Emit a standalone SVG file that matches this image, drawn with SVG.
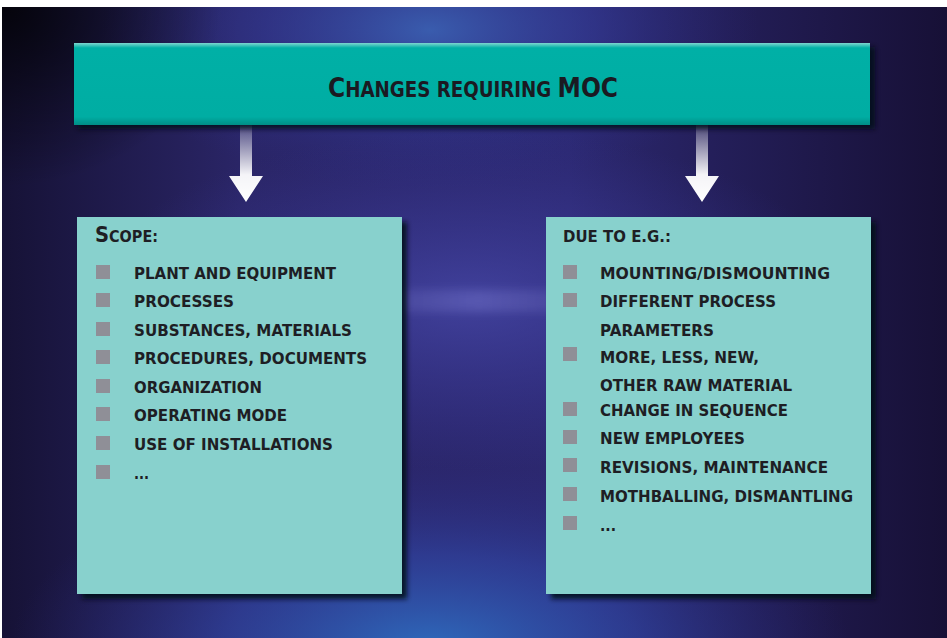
<svg xmlns="http://www.w3.org/2000/svg" width="947" height="638" viewBox="0 0 947 638">
<defs>
<style>
.item{font-family:"DejaVu Sans","Liberation Sans",sans-serif;font-weight:bold;font-size:15.5px;fill:#1e1e24;}
.head{font-family:"DejaVu Sans","Liberation Sans",sans-serif;font-weight:bold;fill:#1e1e24;}
.title{font-family:"DejaVu Sans Condensed","DejaVu Sans","Liberation Sans",sans-serif;font-weight:bold;fill:#1a1a22;}
.bul{fill:#8f8f97;}
.box{fill:#88d1cd;}
</style>
<clipPath id="bgclip"><rect x="2" y="7" width="945" height="631"/></clipPath>
<linearGradient id="bgbase" x1="0" y1="0" x2="1" y2="0">
<stop offset="0" stop-color="#161236"/>
<stop offset="0.25" stop-color="#2a2566"/>
<stop offset="0.6" stop-color="#2c2870"/>
<stop offset="1" stop-color="#171036"/>
</linearGradient>
<radialGradient id="glowTop" cx="0.5" cy="0.5" r="0.5">
<stop offset="0" stop-color="#3b62b5" stop-opacity="0.9"/>
<stop offset="0.5" stop-color="#3540a0" stop-opacity="0.5"/>
<stop offset="1" stop-color="#2a2a80" stop-opacity="0"/>
</radialGradient>
<radialGradient id="glowBot" cx="0.5" cy="0.5" r="0.5">
<stop offset="0" stop-color="#2e6cbd" stop-opacity="1"/>
<stop offset="0.5" stop-color="#3048a8" stop-opacity="0.6"/>
<stop offset="1" stop-color="#2a2a80" stop-opacity="0"/>
</radialGradient>
<radialGradient id="glowMid" cx="0.5" cy="0.5" r="0.5">
<stop offset="0" stop-color="#4a4cb0" stop-opacity="0.7"/>
<stop offset="1" stop-color="#3a3aa0" stop-opacity="0"/>
</radialGradient>
<radialGradient id="corner" cx="0" cy="0" r="1">
<stop offset="0" stop-color="#000000" stop-opacity="0.8"/>
<stop offset="1" stop-color="#000000" stop-opacity="0"/>
</radialGradient>
<linearGradient id="streak" x1="0" y1="0" x2="1" y2="0">
<stop offset="0" stop-color="#8888dd" stop-opacity="0"/>
<stop offset="0.5" stop-color="#8c8ce0" stop-opacity="0.3"/>
<stop offset="1" stop-color="#8888dd" stop-opacity="0"/>
</linearGradient>
<linearGradient id="arrowG" x1="0" y1="0" x2="0" y2="1">
<stop offset="0" stop-color="#ffffff" stop-opacity="0.15"/>
<stop offset="0.65" stop-color="#ffffff" stop-opacity="0.95"/>
<stop offset="1" stop-color="#ffffff" stop-opacity="1"/>
</linearGradient>
<linearGradient id="topG" x1="0" y1="0" x2="0" y2="1">
<stop offset="0" stop-color="#7fd6cf"/>
<stop offset="0.06" stop-color="#00b0a6"/>
<stop offset="0.9" stop-color="#00ada3"/>
<stop offset="1" stop-color="#008e86"/>
</linearGradient>
<filter id="shadow" x="-10%" y="-10%" width="120%" height="120%">
<feGaussianBlur stdDeviation="2.5"/>
</filter>
<filter id="soft" x="-50%" y="-50%" width="200%" height="200%">
<feGaussianBlur stdDeviation="4"/>
</filter>
</defs>

<rect width="947" height="638" fill="#ffffff"/>
<g id="background" clip-path="url(#bgclip)">
<rect x="2" y="7" width="945" height="631" fill="url(#bgbase)"/>
<ellipse cx="430" cy="30" rx="330" ry="160" fill="url(#glowTop)"/>
<ellipse cx="430" cy="650" rx="420" ry="190" fill="url(#glowBot)"/>
<ellipse cx="470" cy="300" rx="380" ry="170" fill="url(#glowMid)"/>
<rect x="300" y="290" width="360" height="22" fill="url(#streak)" filter="url(#soft)"/>
<rect x="2" y="7" width="220" height="180" fill="url(#corner)"/>
</g>

<g id="connectors">
<path d="M240,124 L252,124 L252,176 L263,176 L246,202 L229,176 L240,176 Z" fill="url(#arrowG)"/>
<path d="M696,124 L708,124 L708,176 L719,176 L702,202 L685,176 L696,176 Z" fill="url(#arrowG)"/>
</g>

<g id="node-top">
<rect x="78" y="47" width="797" height="82" fill="#050818" opacity="0.8" filter="url(#shadow)"/>
<rect x="74" y="43" width="796" height="82" fill="url(#topG)"/>
<text class="title" x="473" y="97" text-anchor="middle" textLength="290" lengthAdjust="spacingAndGlyphs"><tspan font-size="27">C</tspan><tspan font-size="21">HANGES REQUIRING </tspan><tspan font-size="27">MOC</tspan></text>
</g>

<g id="node-scope">
<rect x="82" y="222" width="325" height="377" fill="#050818" opacity="0.85" filter="url(#shadow)"/>
<rect class="box" x="77" y="217" width="325" height="377"/>
<text class="head" x="95" y="242" textLength="63" lengthAdjust="spacingAndGlyphs"><tspan font-size="21">S</tspan><tspan font-size="15.5">COPE:</tspan></text>
<rect class="bul" x="96" y="265" width="14" height="14"/>
<rect class="bul" x="96" y="293" width="14" height="14"/>
<rect class="bul" x="96" y="322" width="14" height="14"/>
<rect class="bul" x="96" y="350" width="14" height="14"/>
<rect class="bul" x="96" y="379" width="14" height="14"/>
<rect class="bul" x="96" y="407" width="14" height="14"/>
<rect class="bul" x="96" y="436" width="14" height="14"/>
<rect class="bul" x="96" y="465" width="14" height="14"/>
<text class="item" x="134" y="279" textLength="202" lengthAdjust="spacingAndGlyphs">PLANT AND EQUIPMENT</text>
<text class="item" x="134" y="307" textLength="100" lengthAdjust="spacingAndGlyphs">PROCESSES</text>
<text class="item" x="134" y="336" textLength="218" lengthAdjust="spacingAndGlyphs">SUBSTANCES, MATERIALS</text>
<text class="item" x="134" y="364" textLength="233" lengthAdjust="spacingAndGlyphs">PROCEDURES, DOCUMENTS</text>
<text class="item" x="134" y="393" textLength="128" lengthAdjust="spacingAndGlyphs">ORGANIZATION</text>
<text class="item" x="134" y="421" textLength="153" lengthAdjust="spacingAndGlyphs">OPERATING MODE</text>
<text class="item" x="134" y="450" textLength="199" lengthAdjust="spacingAndGlyphs">USE OF INSTALLATIONS</text>
<text class="item" x="134" y="479" textLength="15" lengthAdjust="spacingAndGlyphs">...</text>
</g>

<g id="node-due">
<rect x="551" y="222" width="325" height="377" fill="#050818" opacity="0.85" filter="url(#shadow)"/>
<rect class="box" x="546" y="217" width="325" height="377"/>
<text class="head" x="563" y="242" font-size="15.5" textLength="108" lengthAdjust="spacingAndGlyphs">DUE TO E.G.:</text>
<rect class="bul" x="563" y="265" width="14" height="14"/>
<rect class="bul" x="563" y="293" width="14" height="14"/>
<rect class="bul" x="563" y="347" width="14" height="14"/>
<rect class="bul" x="563" y="402" width="14" height="14"/>
<rect class="bul" x="563" y="430" width="14" height="14"/>
<rect class="bul" x="563" y="458" width="14" height="14"/>
<rect class="bul" x="563" y="487" width="14" height="14"/>
<rect class="bul" x="563" y="516" width="14" height="14"/>
<text class="item" x="600" y="279" textLength="230" lengthAdjust="spacingAndGlyphs">MOUNTING/DISMOUNTING</text>
<text class="item" x="600" y="307" textLength="176" lengthAdjust="spacingAndGlyphs">DIFFERENT PROCESS</text>
<text class="item" x="600" y="336" textLength="114" lengthAdjust="spacingAndGlyphs">PARAMETERS</text>
<text class="item" x="600" y="363" textLength="159" lengthAdjust="spacingAndGlyphs">MORE, LESS, NEW,</text>
<text class="item" x="600" y="391" textLength="192" lengthAdjust="spacingAndGlyphs">OTHER RAW MATERIAL</text>
<text class="item" x="600" y="416" textLength="188" lengthAdjust="spacingAndGlyphs">CHANGE IN SEQUENCE</text>
<text class="item" x="600" y="444" textLength="145" lengthAdjust="spacingAndGlyphs">NEW EMPLOYEES</text>
<text class="item" x="600" y="473" textLength="228" lengthAdjust="spacingAndGlyphs">REVISIONS, MAINTENANCE</text>
<text class="item" x="600" y="502" textLength="253" lengthAdjust="spacingAndGlyphs">MOTHBALLING, DISMANTLING</text>
<text class="item" x="600" y="531" textLength="16" lengthAdjust="spacingAndGlyphs">...</text>
</g>
</svg>
